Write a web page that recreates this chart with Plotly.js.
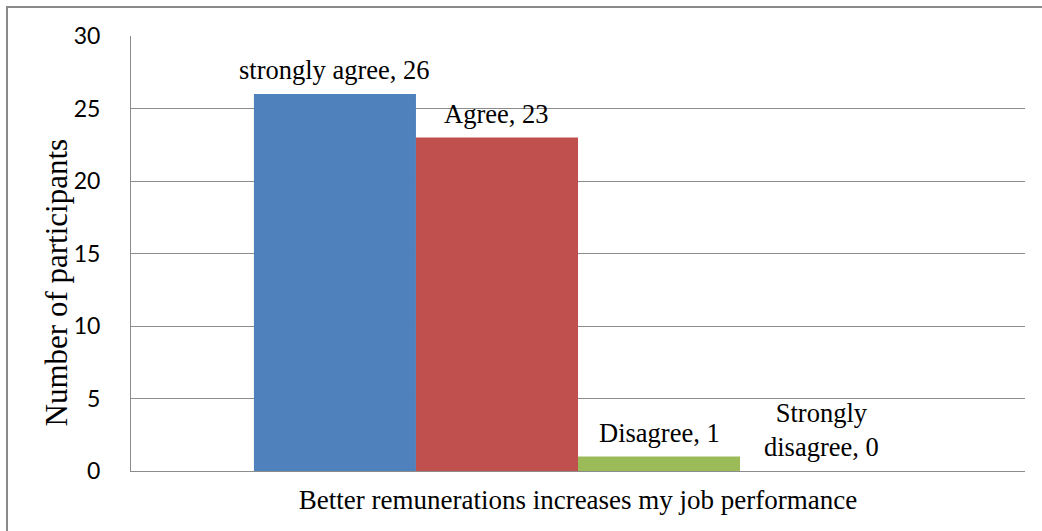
<!DOCTYPE html>
<html>
<head>
<meta charset="utf-8">
<script src="https://cdn.plot.ly/plotly-3.0.1.min.js"></script>
<style>
  html, body { margin: 0; padding: 0; background: #fff; overflow: hidden; }
  #wrap { position: relative; width: 1042px; height: 531px; }
  #chart { position: absolute; left: 0; top: 0; width: 1042px; height: 531px; }
  #frame { position: absolute; left: 6px; top: 6px; width: 1100px; height: 600px;
           border: 2px solid #8a8a8a; box-sizing: border-box; pointer-events: none; }
</style>
</head>
<body>
<div id="wrap">
  <div id="chart"></div>
  <div id="frame"></div>
</div>
<script>
// Survey item and responses
const category = ['Better remunerations increases my job performance'];
const responses = ['strongly agree', 'Agree', 'Disagree', 'Strongly disagree'];
const labelNames = ['strongly agree', 'Agree', 'Disagree', 'Strongly<br>disagree'];
const counts = [26, 23, 1, 0];
const colors = ['#4F81BD', '#C0504D', '#9BBB59', '#8064A2'];
const yTitle = 'Number of participants';

const serif = 'Liberation Serif, Times New Roman, serif';
const sans = 'Lato, Carlito, Calibri, sans-serif';
const gridColor = '#8c8c8c';
const barGap = 0.275;

const traces = responses.map((name, i) => ({
  type: 'bar',
  name: name,
  x: category,
  y: [counts[i]],
  marker: { color: colors[i], line: { width: 0 } },
  hoverinfo: 'none'
}));

// Value labels sit above each bar in the group
const n = responses.length;
const groupWidth = 1 - barGap;
const annotations = responses.map((name, i) => ({
  xref: 'x', yref: 'y',
  x: -groupWidth / 2 + (i + 0.5) * groupWidth / n,
  y: counts[i],
  text: labelNames[i] + ', ' + counts[i],
  showarrow: false,
  xanchor: 'center', yanchor: 'bottom',
  yshift: 7,
  font: { family: serif, size: 26.5, color: '#000' }
}));

// Vertical axis title, set a little below the middle of the plot
annotations.push({
  xref: 'paper', yref: 'paper',
  x: -0.083, y: 0.433,
  xanchor: 'center', yanchor: 'middle',
  text: yTitle,
  textangle: -90,
  showarrow: false,
  font: { family: serif, size: 31, color: '#000' }
});

const layout = {
  width: 1042, height: 531,
  margin: { l: 131, r: 17, t: 36, b: 60 },
  paper_bgcolor: '#fff', plot_bgcolor: '#fff',
  showlegend: false,
  barmode: 'group',
  bargap: barGap,
  bargroupgap: 0,
  xaxis: {
    type: 'category',
    range: [-0.5, 0.5],
    showticklabels: false,
    ticks: '',
    showgrid: false,
    showline: true, linecolor: gridColor, linewidth: 1,
    zeroline: false,
    title: { text: category[0], font: { family: serif, size: 27, color: '#000' }, standoff: 19 }
  },
  yaxis: {
    range: [0, 30],
    dtick: 5,
    tick0: 0,
    showgrid: true, gridcolor: gridColor, gridwidth: 1,
    showline: true, linecolor: gridColor, linewidth: 1,
    zeroline: false,
    ticks: '',
    ticklabelstandoff: 25,
    tickfont: { family: sans, size: 23, color: '#000' }
  },
  annotations: annotations
};

Plotly.newPlot('chart', traces, layout, { displayModeBar: false, staticPlot: true });
</script>
</body>
</html>
